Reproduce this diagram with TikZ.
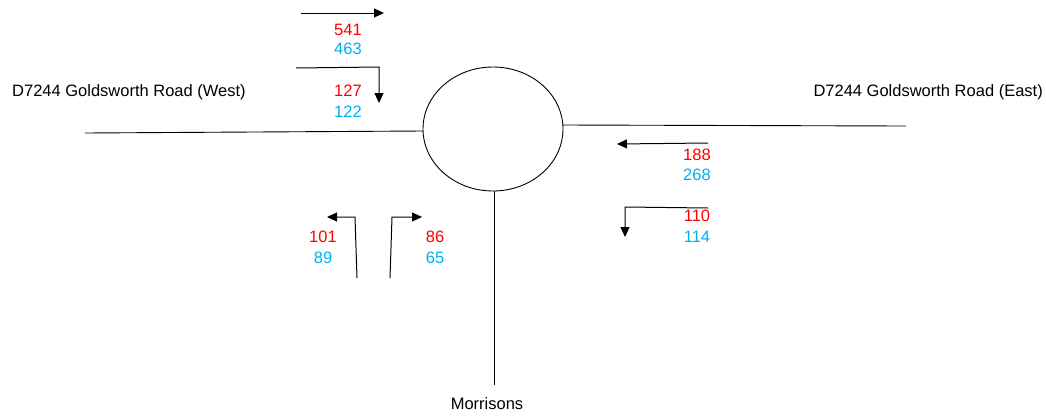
\documentclass[tikz,border=0pt]{standalone}
\usepackage{fontspec}
\setmainfont{Liberation Sans}
\usepackage{tikz}
\usetikzlibrary{arrows.meta,calc}

\definecolor{amred}{HTML}{FF0000}
\definecolor{pmblue}{HTML}{00B0F0}

\tikzset{
  road/.style={line width=0.9pt},
  turn/.style={line width=1pt,-{Triangle[length=10pt,width=9pt]}},
  am/.style={text=amred,inner sep=0pt},
  pm/.style={text=pmblue,inner sep=0pt},
  roadname/.style={inner sep=0pt}
}

\begin{document}
\begin{tikzpicture}[x=1pt,y=-1pt,font=\fontsize{16.5}{19}\selectfont]
\useasboundingbox (0,0) rectangle (1046,416);

% roundabout and the three arms
\draw[road] (493,129) ellipse [x radius=70,y radius=62];
\draw[road] (85,133)--(423,131);
\draw[road] (563,125)--(906,126);
\draw[road] (494,191)--(494,385);

\node[roadname,anchor=west] (west) at (12,92) {D7244 Goldsworth Road (West)};
\node[roadname,anchor=east] (east) at (1043,92) {D7244 Goldsworth Road (East)};
\node[roadname] (morrisons) at (487,404) {Morrisons};

% turning movements, west arm
\draw[turn] (301,13)--(384,13);
\draw[turn] (296,68)--(379,67)--(379,103);
\node[am] (wa) at (348,30) {541};
\node[pm] (wb) at (348,49) {463};
\node[am] (wc) at (348,91) {127};
\node[pm] (wd) at (348,112) {122};

% south arm
\draw[turn] (357,278)--(355,217)--(327,217);
\draw[turn] (390,278)--(392,217)--(422,217);
\node[am] (sa) at (323,237) {101};
\node[pm] (sb) at (323,258) {89};
\node[am] (sc) at (435,237) {86};
\node[pm] (sd) at (435,258) {65};

% east arm
\draw[turn] (708,143)--(617,144);
\draw[turn] (708,208)--(625,207)--(625,237);
\node[am] (ea) at (697,155) {188};
\node[pm] (eb) at (697,175) {268};
\node[am] (ec) at (697,216) {110};
\node[pm] (ed) at (697,237) {114};
\end{tikzpicture}
\end{document}
